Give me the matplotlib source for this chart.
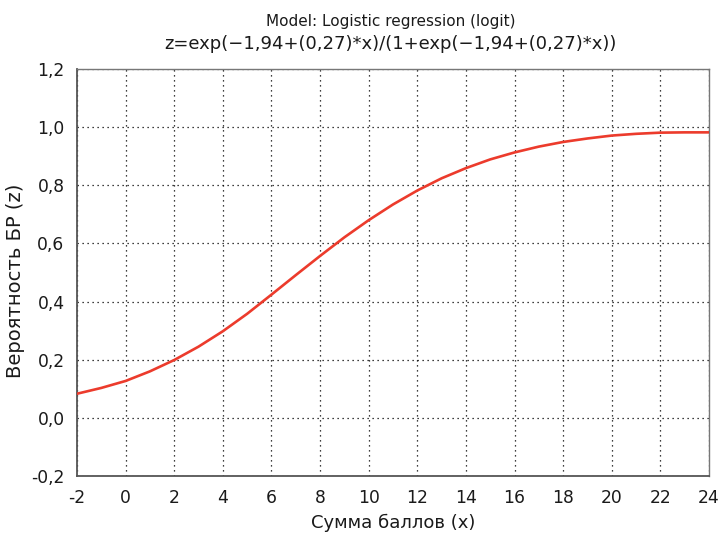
import matplotlib
matplotlib.use("Agg")
import matplotlib.pyplot as plt

# values
x_vals = [-2, -1, 0, 1, 2, 3, 4, 5, 6, 7, 8, 9, 10, 11, 12, 13, 14, 15, 16,
          17, 18, 19, 20, 21, 22, 23, 24]
z_vals = [0.083, 0.103, 0.127, 0.160, 0.199, 0.245, 0.298, 0.358, 0.424,
          0.491, 0.557, 0.621, 0.680, 0.734, 0.782, 0.824, 0.859, 0.889,
          0.913, 0.933, 0.949, 0.961, 0.971, 0.977, 0.981, 0.982, 0.982]

x_ticks = [-2, 0, 2, 4, 6, 8, 10, 12, 14, 16, 18, 20, 22, 24]
y_ticks = [-0.2, 0.0, 0.2, 0.4, 0.6, 0.8, 1.0, 1.2]
y_tick_labels = ["-0,2", "0,0", "0,2", "0,4", "0,6", "0,8", "1,0", "1,2"]

title_top = "Model: Logistic regression (logit)"
title_formula = "z=exp(\u22121,94+(0,27)*x)/(1+exp(\u22121,94+(0,27)*x))"
x_label = "Сумма баллов (x)"
y_label = "Вероятность БР (z)"

plt.rcParams["font.family"] = "sans-serif"
plt.rcParams["font.sans-serif"] = ["DejaVu Sans"]

fig = plt.figure(figsize=(7.19, 5.36), dpi=100)
ax = fig.add_axes([0.1071, 0.1119, 0.879, 0.7594])

ax.plot(x_vals, z_vals, color="#ec3b2c", lw=1.9, solid_capstyle="round",
        solid_joinstyle="round", zorder=3)

ax.set_xlim(-2, 24)
ax.set_ylim(-0.2, 1.2)
ax.set_xticks(x_ticks)
ax.set_xticklabels([str(t) for t in x_ticks])
ax.set_yticks(y_ticks)
ax.set_yticklabels(y_tick_labels)
ax.tick_params(length=0, labelsize=12.3, pad=9, colors="#1a1a1a")

ax.grid(True, color="black", linestyle=(0, (1, 3)), linewidth=0.9)

for name, sp in ax.spines.items():
    sp.set_color("#777777")
    sp.set_linewidth(1.0)
ax.spines["left"].set_color("#555555")
ax.spines["left"].set_linewidth(1.3)
ax.spines["bottom"].set_color("#555555")
ax.spines["bottom"].set_linewidth(1.3)

ax.set_xlabel(x_label, fontsize=13, labelpad=5, color="#1a1a1a")
ax.set_ylabel(y_label, fontsize=14, color="#1a1a1a")
ax.yaxis.set_label_coords(-0.082, 0.479)

fig.text(0.544, 0.9515, title_top, ha="center", va="baseline", fontsize=11,
         color="#1a1a1a")
fig.text(0.543, 0.9086, title_formula, ha="center", va="baseline", fontsize=13,
         color="#1a1a1a")

fig.savefig("out.png", dpi=100)
